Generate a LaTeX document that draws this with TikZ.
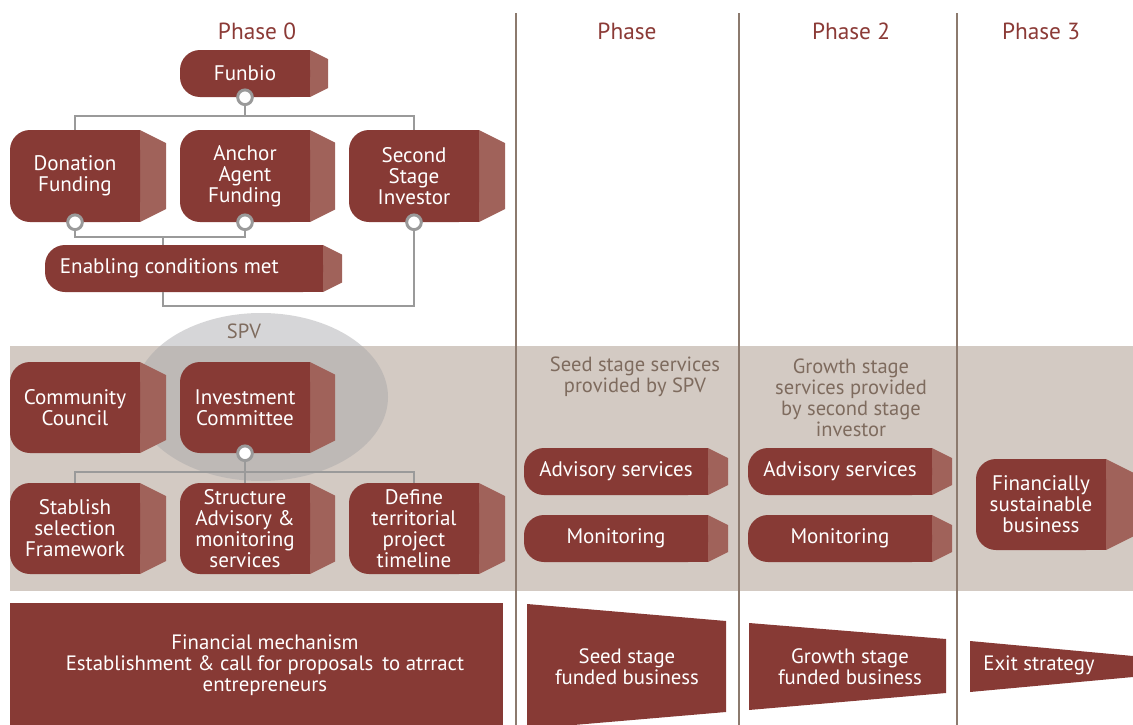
\documentclass[tikz,border=0pt]{standalone}
\usepackage{fontspec}
\setmainfont{PT Sans}
\usepackage{tikz}

\definecolor{boxred}{RGB}{135,58,53}
\definecolor{tabred}{RGB}{160,98,90}
\definecolor{bandgray}{RGB}{211,202,195}
\definecolor{spvgray}{RGB}{165,165,168}
\definecolor{divbrown}{RGB}{140,122,110}
\definecolor{headred}{RGB}{139,58,54}
\definecolor{notebrown}{RGB}{126,107,94}
\definecolor{linkgray}{RGB}{154,154,154}

\tikzset{
  stage/.style={fill=boxred, rounded corners=15pt, text=white, align=center,
    inner sep=0pt, font=\fontsize{15.8}{15.75}\selectfont},
  phase/.style={text=headred, font=\fontsize{17.5}{20}\selectfont},
  note/.style={text=notebrown, align=center, font=\fontsize{15.4}{15.75}\selectfont},
  link/.style={draw=linkgray, line width=1.5pt},
  joint/.style={circle, draw=linkgray, fill=white, line width=2.2pt,
    inner sep=0pt, minimum size=11pt},
  flow/.style={text=white, align=center, font=\fontsize{15.6}{15.75}\selectfont}
}

% name, left, right, tab end, top, bottom, text
\newcommand\stagebox[7]{%
  \fill[boxred] ({(#2+#3)/2},#5) rectangle (#3,#6);
  \fill[tabred] (#3,#5) -- (#4,{#5+(#4-#3)/2}) -- (#4,{#6-(#4-#3)/2}) -- (#3,#6) -- cycle;
  \node[stage, minimum width={(#3-#2)*0.75pt}, minimum height={(#6-#5)*0.75pt}]
    (#1) at ({(#2+#3)/2},{(#5+#6)/2}) {#7};
}

\begin{document}
\begin{tikzpicture}[x=0.75pt, y=-0.75pt]
\useasboundingbox (0,0) rectangle (1133,725);
\clip (0,0) rectangle (1133,725);
% band and SPV
\fill[bandgray] (10,346) rectangle (1133,591);
\fill[spvgray, opacity=0.45] (261,397) ellipse (127 and 84);
\node[note] (spv) at (244,331) {SPV};
% phase dividers
\foreach \x in {516,739,957}
  \draw[divbrown, line width=1.2pt] (\x,13) -- (\x,725);
\node[phase] (ph0) at (257,31) {Phase 0};
\node[phase] (ph1) at (627,31) {Phase};
\node[phase] (ph2) at (851,31) {Phase 2};
\node[phase] (ph3) at (1041,31) {Phase 3};
% phase 0, funding
\stagebox{fb}{180}{310}{328}{50}{97}{Funbio}
\stagebox{df}{10}{140}{166}{130}{222}{Donation\\Funding}
\stagebox{aa}{180}{310}{335}{130}{222}{Anchor\\Agent\\Funding}
\stagebox{si}{349}{479}{505}{130}{222}{Second\\Stage\\Investor}
\stagebox{ec}{45}{323}{342}{245}{292}{Enabling conditions met\hspace*{22pt}}
\node[joint] (fb-o) at (fb.south) {};
\node[joint] (df-o) at (df.south) {};
\node[joint] (aa-o) at (aa.south) {};
\node[joint] (si-o) at (si.south) {};
\coordinate (dj) at (163,237);
\coordinate (eb) at (163,306);
\draw[link] (fb-o) -- ++(0,19) -| (df.north);
\draw[link] (fb-o) -- ++(0,19) -| (si.north);
\draw[link] (df-o) -- ++(0,15) -| (aa-o);
\draw[link] (dj) -- (dj |- ec.north);
\draw[link] (si-o) |- (eb) -- (eb |- ec.south);
% phase 0, SPV
\stagebox{cc}{10}{140}{166}{362}{453}{Community\\Council}
\stagebox{ic}{180}{310}{335}{362}{453}{Investment\\Committee}
\stagebox{sf}{10}{140}{166}{483}{574}{Stablish\\selection\\Framework}
\stagebox{sa}{180}{310}{335}{483}{574}{Structure\\Advisory \&\\monitoring\\services}
\stagebox{dt}{349}{479}{505}{483}{574}{Define\\territorial\\project\\timeline}
\node[joint] (ic-o) at (ic.south) {};
\draw[link] (ic-o) -- ++(0,19) -| (sf.north);
\draw[link] (ic-o) -- ++(0,19) -| (dt.north);
\draw[link] (ic-o) -- (sa.north);
% phases 1 to 3
\node[note] (sn1) at (635,377) {Seed stage services\\provided by SPV};
\node[note] (sn2) at (851,398) {Growth stage\\services provided\\by second stage\\investor};
\stagebox{av1}{524}{708}{728}{448}{495}{Advisory services}
\stagebox{mo1}{524}{708}{728}{515}{562}{Monitoring}
\stagebox{av2}{748}{932}{952}{448}{495}{Advisory services}
\stagebox{mo2}{748}{932}{952}{515}{562}{Monitoring}
\stagebox{fs}{976}{1106}{1133}{459}{550}{Financially\\sustainable\\business}
% funding flow
\fill[boxred] (10,603) rectangle (503,730);
\node[flow] (fm) at (265,665) {Financial mechanism\\Establishment \& call for proposals \,to atrract\\entrepreneurs};
\fill[boxred] (527,604) -- (726,621) -- (726,712) -- (527,729) -- cycle;
\node[flow] (sd) at (627,667) {Seed stage\\funded business};
\fill[boxred] (749,623) -- (946,639) -- (946,693) -- (749,710) -- cycle;
\node[flow] (gr) at (850,667) {Growth stage\\funded business};
\fill[boxred] (970,641) -- (1133,656) -- (1133,677) -- (970,692) -- cycle;
\node[flow] (ex) at (1039,665) {Exit strategy};
\end{tikzpicture}
\end{document}
